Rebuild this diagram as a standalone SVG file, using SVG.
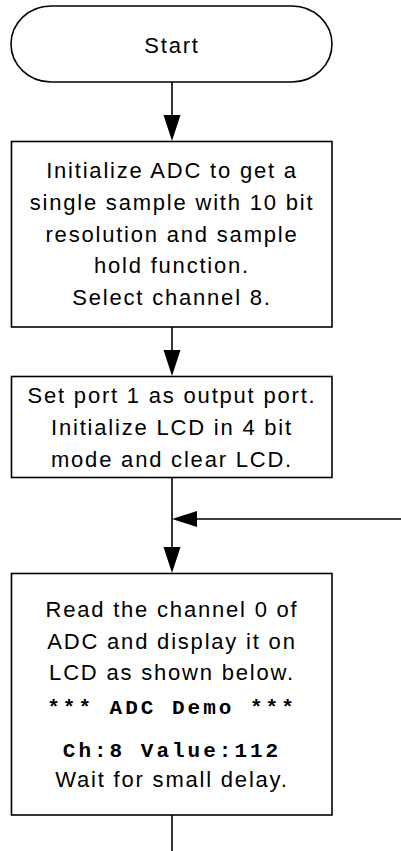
<svg xmlns="http://www.w3.org/2000/svg" width="401" height="851" viewBox="0 0 401 851">
<style>
.shape{fill:#fff;stroke:#000;stroke-width:1.6}
.t{font-family:"Liberation Sans",Arial,sans-serif;font-size:22px;letter-spacing:1.8px;text-anchor:middle;fill:#000}
.m{font-family:"Liberation Mono","Courier New",monospace;font-size:21px;font-weight:bold;letter-spacing:3px;text-anchor:middle;fill:#000}
.c{fill:none;stroke:#000;stroke-width:1.6}
.h{fill:#000;stroke:none}
</style>
<rect width="401" height="851" fill="#fff"/>
<g id="connectors">
<line class="c" x1="172" y1="82" x2="172" y2="118"/>
<polygon class="h" points="163.5,115 180.5,115 172,141"/>
<line class="c" x1="172" y1="327" x2="172" y2="352"/>
<polygon class="h" points="163.5,350 180.5,350 172,376"/>
<line class="c" x1="172" y1="478" x2="172" y2="550"/>
<polygon class="h" points="163.5,547 180.5,547 172,573"/>
<line class="c" x1="401" y1="519" x2="194" y2="519"/>
<polygon class="h" points="197,511 197,527 172,519"/>
<line class="c" x1="172" y1="815" x2="172" y2="851"/>
</g>
<g id="start">
<rect class="shape" x="11" y="6" width="321" height="76" rx="40" ry="38"/>
<text class="t" x="172" y="53">Start</text>
</g>
<g id="init-adc">
<rect class="shape" x="11.5" y="141.5" width="320.5" height="185.5"/>
<text class="t" x="172" y="178">Initialize ADC to get a</text>
<text class="t" x="172" y="210">single sample with 10 bit</text>
<text class="t" x="172" y="241.5">resolution and sample</text>
<text class="t" x="172" y="273">hold function.</text>
<text class="t" x="172" y="305">Select channel 8.</text>
</g>
<g id="init-lcd">
<rect class="shape" x="11.5" y="376.5" width="320.5" height="101"/>
<text class="t" x="172" y="403">Set port 1 as output port.</text>
<text class="t" x="172" y="435">Initialize LCD in 4 bit</text>
<text class="t" x="172" y="467">mode and clear LCD.</text>
</g>
<g id="read-adc">
<rect class="shape" x="11.5" y="573.5" width="320.5" height="241.5"/>
<text class="t" x="172" y="617">Read the channel 0 of</text>
<text class="t" x="172" y="648.5">ADC and display it on</text>
<text class="t" x="172" y="680">LCD as shown below.</text>
<text class="m" x="172" y="714">*** ADC Demo ***</text>
<text class="m" x="172" y="756.5">Ch:8 Value:112</text>
<text class="t" x="172" y="787">Wait for small delay.</text>
</g>
</svg>
